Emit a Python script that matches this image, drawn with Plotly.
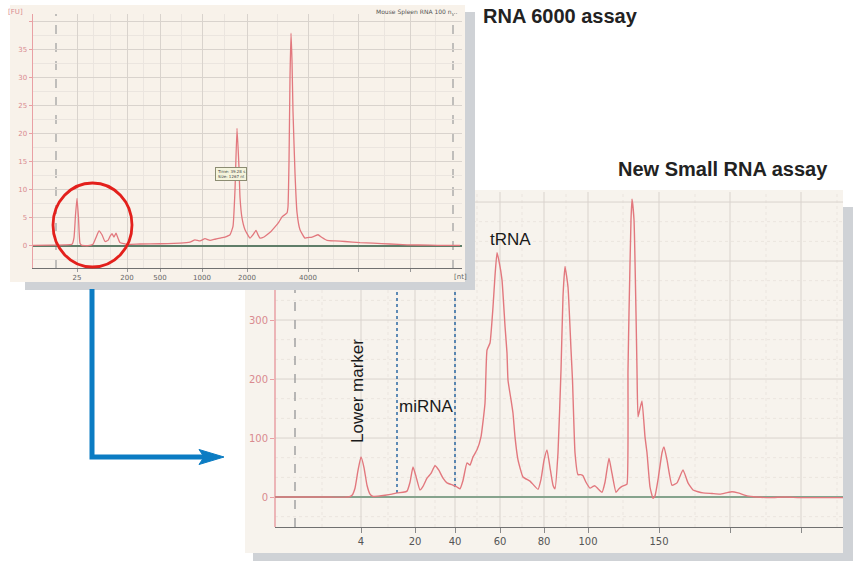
import plotly.graph_objects as go

W, H = 853, 562

def px(x):
    return x / W

def py(y):
    return 1 - y / H

# ---------------- RNA 6000 assay (upper window) ----------------
rna6000_time = [19.0, 21.125, 23.0, 23.875, 24.125, 24.3125, 24.5, 24.6875, 24.875, 25.125,
                25.875, 26.5, 26.875, 27.25, 27.625, 28.0, 28.375, 28.625, 28.875, 29.125,
                29.375, 29.625, 29.875, 30.375, 30.75, 32.375, 34.875, 37.375, 38.625, 39.25,
                39.875, 40.5, 41.125, 41.75, 42.375, 43.0, 43.625, 44.0, 44.25, 44.5,
                44.75, 44.875, 45.125, 45.5, 46.125, 46.5, 46.875, 47.125, 47.375, 47.875,
                48.25, 48.75, 49.25, 49.75, 50.125, 50.5, 50.75, 50.875, 51.0, 51.125,
                51.25, 51.375, 51.5, 51.75, 52.0, 52.375, 53.0, 53.375, 53.875, 54.25,
                54.625, 55.125, 55.75, 56.75, 58.0, 59.875, 61.5, 63.625, 65.75, 68.625,
                70.5, 72.375]
rna6000_fu = [0.1, 0.15, 0.2, 0.3, 1.5, 5.5, 8.5, 5.0, 0.5, 0.1,
              0.05, 0.3, 1.5, 2.7, 2.0, 0.8, 1.0, 1.7, 2.2, 1.6,
              2.3, 1.4, 0.6, 0.4, 0.3, 0.35, 0.4, 0.5, 0.7, 1.1,
              0.9, 1.3, 1.0, 1.2, 1.4, 1.6, 2.0, 3.5, 10.0, 21.0,
              14.0, 8.7, 5.0, 2.9, 1.4, 2.0, 2.8, 2.0, 1.4, 1.6,
              2.0, 2.6, 3.4, 4.3, 5.2, 5.6, 5.9, 7.0, 15.0, 30.0,
              38.0, 33.0, 24.0, 13.0, 6.0, 2.9, 1.4, 1.5, 1.6, 1.8,
              2.0, 1.5, 1.0, 0.9, 0.8, 0.6, 0.5, 0.35, 0.2, 0.15,
              0.1, 0.1]
rna6000_xrange = [19.0, 72.625]
rna6000_yrange = [-3.93, 41.4]
rna6000_tick_time = [24.5, 30.75, 34.875, 40.125, 45.75, 53.375, 59.625, 66.125]
rna6000_tick_text = ["25", "200", "500", "1000", "2000", "4000", "", ""]
rna6000_minor_time = [26.5, 28.625, 32.75, 37.5, 42.875, 49.5, 56.5, 62.875, 69.25]
rna6000_ytick_vals = [0, 5, 10, 15, 20, 25, 30, 35, 40]
rna6000_ytick_text = ["0", "5", "10", "15", "20", "25", "30", "35", ""]
rna6000_yminor = [-2.5, 2.5, 7.5, 12.5, 17.5, 22.5, 27.5, 32.5, 37.5]
rna6000_markers = [21.875, 71.5]   # dashed marker lines

# ---------------- Small RNA assay (lower window) ----------------
small_time = [15.0, 17.5, 20.5, 22.3, 22.7, 23.0, 23.3, 23.6, 23.9, 24.2,
              24.5, 24.8, 25.3, 26.0, 26.7, 27.2, 27.8, 28.2, 28.5, 28.8,
              29.1, 29.5, 29.8, 30.2, 30.6, 31.0, 31.4, 31.8, 32.2, 32.8,
              33.2, 33.5, 33.8, 34.2, 34.5, 34.8, 35.2, 35.6, 36.0, 36.2,
              36.5, 36.8, 37.0, 37.2, 37.4, 37.7, 38.0, 38.2, 38.3, 38.6,
              38.8, 39.0, 39.3, 39.8, 40.5, 41.3, 41.6, 41.9, 42.2, 42.5,
              42.8, 43.0, 43.3, 43.6, 43.8, 44.0, 44.3, 44.6, 44.75, 45.0,
              45.3, 45.6, 45.8, 46.1, 46.5, 46.8, 47.0, 47.3, 47.7, 48.0,
              48.4, 48.7, 49.1, 49.4, 49.7, 50.0, 50.2, 50.3, 50.4, 50.6,
              50.7, 50.9, 51.1, 51.2, 51.3, 51.5, 51.7, 52.0, 52.2, 52.5,
              52.8, 53.0, 53.3, 53.7, 53.9, 54.2, 54.7, 55.2, 55.8, 56.3,
              56.8, 57.3, 57.8, 58.7, 59.5, 60.1, 60.7, 61.3, 62.2, 63.2,
              64.5, 66.0, 67.5, 71.8]
small_fu = [0, 0, 0, 0, 3, 15, 45, 68, 50, 20,
            5, 1, 1.5, 3, 5, 7, 8, 10, 25, 51,
            35, 12, 18, 32, 40, 53, 45, 32, 24, 20,
            17, 14, 28, 58, 54, 68, 80, 102, 159, 249,
            261, 322, 375, 414, 400, 368, 290, 244, 198, 165,
            142, 102, 63, 34, 27, 13, 30, 62, 80, 50,
            20, 14, 75, 215, 340, 391, 356, 250, 198, 75,
            38, 38, 36, 25, 15, 18, 19, 14, 8, 25,
            66, 40, 8, 14, 18, 20, 22, 215, 312, 470,
            505, 470, 312, 215, 136, 150, 163, 102, 75, 17,
            -2, 2, 29, 75, 85, 63, 20, 24, 46, 24,
            12, 9, 7, 6, 5, 7, 9, 7, 2, 0,
            -1, 0, -1, -1]
small_xrange = [15.0, 71.8]
small_yrange = [-50.8, 517.0]
small_tick_time = [23.6, 29.0, 33.0, 37.5, 41.9, 46.3, 53.4, 60.5, 67.6]
small_tick_text = ["4", "20", "40", "60", "80", "100", "150", "", ""]
small_minor_time = [19.7, 26.3, 31.0, 35.2, 39.7, 44.1, 49.8, 57.0, 64.1, 71.2]
small_ytick_vals = [0, 100, 200, 300]
small_ygrid_major = [0, 100, 200, 300, 400, 500]
small_ygrid_minor = [-33.3, 33.3, 66.7, 133.3, 166.7, 233.3, 266.7, 333.3, 366.7, 433.3, 466.7]
small_marker_time = 17.0
mirna_bounds_time = [27.2, 33.0]
mirna_bounds_base = [7, 17]

# ---------------- geometry (pixels of the 853x562 canvas) ----------------
top_dom_x = [px(33), px(462)]
top_dom_y = [py(268), py(14)]
sm_dom_x = [px(275), px(843)]
sm_dom_y = [py(527), py(192)]

def y2paper(v):
    f = (v - small_yrange[0]) / (small_yrange[1] - small_yrange[0])
    return sm_dom_y[0] + f * (sm_dom_y[1] - sm_dom_y[0])

PINK = "#e2787e"
AXPINK = "#e9a0a4"
TICKPINK = "#d98a90"
GRID = "#d9d3cd"
GRIDMIN = "#ebe5df"
CREAM_TOP = "#f8f2ea"
CREAM_SM = "#f7f3ed"
SHADOW = "#cfd2d6"

fig = go.Figure()

fig.add_trace(go.Scatter(x=rna6000_time, y=rna6000_fu, mode="lines",
                         line=dict(color=PINK, width=1.3, shape="spline", smoothing=0.4),
                         xaxis="x", yaxis="y", hoverinfo="skip", showlegend=False))
fig.add_trace(go.Scatter(x=small_time, y=small_fu, mode="lines",
                         line=dict(color=PINK, width=1.4, shape="spline", smoothing=0.4),
                         xaxis="x2", yaxis="y2", hoverinfo="skip", showlegend=False))

shapes = []
# ---- lower window: shadow + panel ----
shapes.append(dict(type="rect", xref="paper", yref="paper", layer="below",
                   x0=px(253), x1=px(853), y0=py(561), y1=py(207),
                   fillcolor=SHADOW, line=dict(width=0)))
shapes.append(dict(type="rect", xref="paper", yref="paper", layer="below",
                   x0=px(245), x1=px(843), y0=py(553), y1=py(190),
                   fillcolor=CREAM_SM, line=dict(width=0)))
# lower window grid
for t in small_minor_time:
    shapes.append(dict(type="line", xref="x2", yref="paper", layer="below",
                       x0=t, x1=t, y0=sm_dom_y[0], y1=sm_dom_y[1],
                       line=dict(color=GRIDMIN, width=1, dash="dot")))
for v in small_ygrid_minor:
    shapes.append(dict(type="line", xref="paper", yref="y2", layer="below",
                       x0=sm_dom_x[0], x1=sm_dom_x[1], y0=v, y1=v,
                       line=dict(color=GRIDMIN, width=1, dash="dot")))
for t in small_tick_time:
    shapes.append(dict(type="line", xref="x2", yref="paper", layer="below",
                       x0=t, x1=t, y0=sm_dom_y[0], y1=sm_dom_y[1],
                       line=dict(color=GRID, width=1)))
for v in small_ygrid_major:
    shapes.append(dict(type="line", xref="paper", yref="y2", layer="below",
                       x0=sm_dom_x[0], x1=sm_dom_x[1], y0=v, y1=v,
                       line=dict(color=GRID, width=1)))
# lower window y axis line
shapes.append(dict(type="line", xref="paper", yref="paper", layer="below",
                   x0=sm_dom_x[0], x1=sm_dom_x[0], y0=sm_dom_y[0], y1=sm_dom_y[1],
                   line=dict(color=AXPINK, width=1.5)))
# lower marker dashed line
shapes.append(dict(type="line", xref="x2", yref="paper", layer="below",
                   x0=small_marker_time, x1=small_marker_time,
                   y0=sm_dom_y[0], y1=sm_dom_y[1],
                   line=dict(color="#a3a3a3", width=1.5, dash="dash")))
# miRNA region boundaries
for t, b in zip(mirna_bounds_time, mirna_bounds_base):
    shapes.append(dict(type="line", xref="x2", yref="paper", layer="below",
                       x0=t, x1=t, y0=y2paper(b), y1=sm_dom_y[1],
                       line=dict(color="#1f5f9e", width=1.4, dash="dot")))

# ---- upper window: shadow + panel (covers the lower window) ----
shapes.append(dict(type="rect", xref="paper", yref="paper", layer="below",
                   x0=px(25), x1=px(475), y0=py(290), y1=py(12),
                   fillcolor=SHADOW, line=dict(width=0)))
shapes.append(dict(type="rect", xref="paper", yref="paper", layer="below",
                   x0=px(10), x1=px(465), y0=py(282), y1=py(5),
                   fillcolor=CREAM_TOP, line=dict(width=0)))
# upper dashed marker lines
for t in rna6000_markers:
    shapes.append(dict(type="line", xref="x", yref="y", layer="below",
                       x0=t, x1=t, y0=rna6000_yrange[0], y1=rna6000_yrange[1],
                       line=dict(color="#9c9c9c", width=1.2, dash="dash")))

# ---- red circle and blue arrow ----
shapes.append(dict(type="circle", xref="paper", yref="paper", layer="above",
                   x0=px(53), x1=px(132), y0=py(267), y1=py(183),
                   line=dict(color="#e3201c", width=2.8)))
ARROW = "#0b7cc3"
shapes.append(dict(type="path", xref="paper", yref="paper", layer="above",
                   path=f"M {px(92)},{py(289)} L {px(92)},{py(457)} L {px(206)},{py(457)}",
                   line=dict(color=ARROW, width=5)))
shapes.append(dict(type="path", xref="paper", yref="paper", layer="above",
                   path=(f"M {px(199)},{py(449.5)} L {px(224)},{py(457)} "
                         f"L {px(199)},{py(464.5)} L {px(204)},{py(457)} Z"),
                   fillcolor=ARROW, line=dict(color=ARROW, width=1)))

TITLE_FONT = "Liberation Sans, Arial, sans-serif"
LBL_FONT = "Liberation Sans, Arial, sans-serif"
TICK_FONT = "DejaVu Sans, Verdana, sans-serif"

annotations = [
    dict(text="<b>RNA 6000 assay</b>", x=px(481), y=py(16), xref="paper", yref="paper",
         xanchor="left", yanchor="middle", showarrow=False,
         font=dict(family=TITLE_FONT, size=20, color="#222222")),
    dict(text="<b>New Small RNA assay</b>", x=px(616), y=py(169), xref="paper", yref="paper",
         xanchor="left", yanchor="middle", showarrow=False,
         font=dict(family=TITLE_FONT, size=20, color="#222222")),
    dict(text="tRNA", x=px(510), y=py(240), xref="paper", yref="paper",
         xanchor="center", yanchor="middle", showarrow=False,
         font=dict(family=LBL_FONT, size=17, color="#1a1a1a")),
    dict(text="miRNA", x=px(426), y=py(406), xref="paper", yref="paper",
         xanchor="center", yanchor="middle", showarrow=False,
         font=dict(family=LBL_FONT, size=17, color="#1a1a1a")),
    dict(text="Lower marker", x=px(357), y=py(391), xref="paper", yref="paper",
         xanchor="center", yanchor="middle", showarrow=False, textangle=-90,
         font=dict(family=LBL_FONT, size=17, color="#1a1a1a")),
    dict(text="[FU]", x=px(15), y=py(12), xref="paper", yref="paper",
         xanchor="center", yanchor="middle", showarrow=False,
         font=dict(family=TICK_FONT, size=7, color=TICKPINK)),
    dict(text="Mouse Spleen RNA 100 n...", x=px(459), y=py(12), xref="paper", yref="paper",
         xanchor="right", yanchor="middle", showarrow=False,
         font=dict(family=TICK_FONT, size=6, color="#555555")),
    dict(text="[nt]", x=px(460), y=py(277), xref="paper", yref="paper",
         xanchor="center", yanchor="middle", showarrow=False,
         font=dict(family=TICK_FONT, size=7, color="#666666")),
    dict(text="Time: 39.28 s<br>Size: 1267 nt", x=px(231), y=py(174), xref="paper", yref="paper",
         xanchor="center", yanchor="middle", showarrow=False, align="left",
         bgcolor="#f4f4dc", bordercolor="#8c8c72", borderwidth=1, borderpad=1,
         font=dict(family=TICK_FONT, size=4, color="#444444")),
]

fig.update_layout(
    width=W, height=H,
    margin=dict(l=0, r=0, t=0, b=0),
    paper_bgcolor="white",
    plot_bgcolor="rgba(0,0,0,0)",
    showlegend=False,
    shapes=shapes,
    annotations=annotations,
    xaxis=dict(domain=top_dom_x, range=rna6000_xrange, anchor="y",
               tickmode="array", tickvals=rna6000_tick_time, ticktext=rna6000_tick_text,
               showgrid=True, gridcolor=GRID, gridwidth=1,
               minor=dict(tickmode="array", tickvals=rna6000_minor_time,
                          showgrid=True, gridcolor=GRIDMIN, gridwidth=1, ticks=""),
               showline=True, linecolor="#707070", linewidth=1,
               ticks="outside", ticklen=3, tickcolor="#999999",
               tickfont=dict(family=TICK_FONT, size=7, color="#666666"),
               zeroline=False, fixedrange=True),
    yaxis=dict(domain=top_dom_y, range=rna6000_yrange, anchor="x",
               tickmode="array", tickvals=rna6000_ytick_vals, ticktext=rna6000_ytick_text,
               showgrid=True, gridcolor=GRID, gridwidth=1,
               minor=dict(tickmode="array", tickvals=rna6000_yminor,
                          showgrid=True, gridcolor=GRIDMIN, gridwidth=1, ticks=""),
               showline=True, linecolor=AXPINK, linewidth=1.5,
               ticks="outside", ticklen=3, tickcolor=AXPINK,
               tickfont=dict(family=TICK_FONT, size=7, color=TICKPINK),
               zeroline=True, zerolinecolor="#5f7d68", zerolinewidth=1.2, fixedrange=True),
    xaxis2=dict(domain=sm_dom_x, range=small_xrange, anchor="y2",
                tickmode="array", tickvals=small_tick_time, ticktext=small_tick_text,
                showgrid=False, showline=True, linecolor="#707070", linewidth=1,
                ticks="outside", ticklen=5, tickcolor="#8a8a8a",
                tickfont=dict(family=TICK_FONT, size=10, color="#555555"),
                zeroline=False, fixedrange=True),
    yaxis2=dict(domain=sm_dom_y, range=small_yrange, anchor="x2",
                tickmode="array", tickvals=small_ytick_vals,
                showgrid=False, showline=False,
                ticks="outside", ticklen=4, tickcolor=AXPINK,
                tickfont=dict(family=TICK_FONT, size=10, color=TICKPINK),
                zeroline=True, zerolinecolor="#86a38d", zerolinewidth=1.3, fixedrange=True),
)

fig.write_html("out.html", config=dict(displayModeBar=False, staticPlot=True),
               post_script="document.body.style.margin='0';")
